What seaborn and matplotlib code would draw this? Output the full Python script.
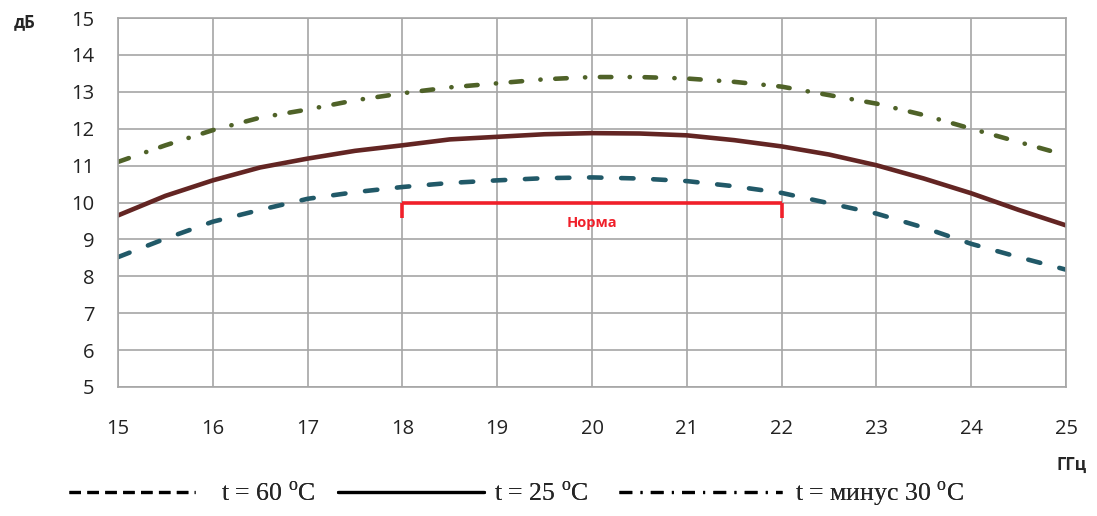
import numpy as np
import pandas as pd
import matplotlib
matplotlib.use("Agg")
import matplotlib.pyplot as plt
from matplotlib.lines import Line2D
import seaborn as sns

# ---- data ----
freq_ghz = [15, 15.5, 16, 16.5, 17, 17.5, 18, 18.5, 19, 19.5, 20,
            20.5, 21, 21.5, 22, 22.5, 23, 23.5, 24, 24.5, 25]
gain_60 = [8.52, 9.02, 9.48, 9.80, 10.10, 10.28, 10.42, 10.53, 10.60, 10.66, 10.68,
           10.65, 10.58, 10.44, 10.26, 9.98, 9.70, 9.32, 8.88, 8.52, 8.18]
gain_25 = [9.65, 10.18, 10.60, 10.95, 11.19, 11.40, 11.55, 11.71, 11.78, 11.85, 11.88,
           11.87, 11.82, 11.69, 11.52, 11.30, 11.01, 10.65, 10.25, 9.80, 9.38]
gain_m30 = [11.10, 11.55, 11.96, 12.30, 12.52, 12.77, 12.96, 13.12, 13.23, 13.34, 13.40,
            13.40, 13.36, 13.27, 13.14, 12.91, 12.68, 12.37, 12.00, 11.64, 11.28]
norm_x = [18, 22]
norm_level = 10
norm_label = "Норма"
series_labels = ["t = 60 $^{\\rm o}$C", "t = 25 $^{\\rm o}$C", "t = минус 30 $^{\\rm o}$C"]
x_ticks = list(range(15, 26))
y_ticks = list(range(5, 16))

sns.set_style("white")
plt.rcParams["font.family"] = ["Open Sans", "DejaVu Sans"]
plt.rcParams["mathtext.fontset"] = "custom"
plt.rcParams["mathtext.rm"] = "Liberation Serif"

W, H = 1097, 516
fig = plt.figure(figsize=(W / 100, H / 100), dpi=100)
ax = fig.add_axes([118/W, 1-387/H, (1066-118)/W, (387-18)/H])

c60 = "#215968"
c25 = "#632523"
cm30 = "#4F6228"
lw = 3.3

df = pd.DataFrame({"f": freq_ghz, "g60": gain_60, "g25": gain_25, "gm30": gain_m30})

sns.lineplot(data=df, x="f", y="gm30", ax=ax, color=cm30, lw=lw)
sns.lineplot(data=df, x="f", y="g25", ax=ax, color=c25, lw=lw)
sns.lineplot(data=df, x="f", y="g60", ax=ax, color=c60, lw=lw)

l_m30, l_25, l_60 = ax.get_lines()[:3]
l_60.set_linestyle((0, (2.7, 4.3)))
l_60.set_dash_capstyle("round")
l_m30.set_linestyle((0, (2.5, 4.0, 0.05, 3.2)))
l_m30.set_dash_capstyle("round")
l_25.set_solid_joinstyle("round")

# Норма bracket
red = "#F0202A"
ax.plot(norm_x, [norm_level, norm_level], color=red, lw=2.6, solid_capstyle="butt")
for xv in norm_x:
    ax.plot([xv, xv], [norm_level, norm_level - 0.42], color=red, lw=2.6, solid_capstyle="butt")
ax.text(np.mean(norm_x), norm_level - 0.55, norm_label, color=red, fontsize=10.5,
        fontweight="bold", ha="center", va="center")

ax.set_xlim(15, 25)
ax.set_ylim(5, 15)
ax.set_xticks(x_ticks)
ax.set_yticks(y_ticks)
ax.set_xticklabels([str(v) for v in x_ticks])
ax.set_yticklabels([str(v) for v in y_ticks])
ax.grid(True, color="#a6a6a6", lw=1.2)
ax.set_axisbelow(True)
for s in ax.spines.values():
    s.set_color("#a6a6a6")
    s.set_linewidth(1.2)
ax.tick_params(axis="y", length=0, pad=17, labelsize=14.5, colors="#222222")
ax.tick_params(axis="x", length=0, pad=23, labelsize=14.5, colors="#222222")
ax.set_xlabel("")
ax.set_ylabel("")

fig.text(25/W, 1-22/H, "дБ", fontsize=12, fontweight="bold", ha="center", va="center")
fig.text(1072/W, 1-465/H, "ГГц", fontsize=12, fontweight="bold", ha="center", va="center")

# legend: three single-entry legends placed along the bottom
leg_fs = 18.5
leg_specs = [
    (69, 126, Line2D([], [], color="black", lw=2.3, linestyle=(0, (3.6, 2.0))), 1.0),
    (338, 146, Line2D([], [], color="black", lw=2.3), 0.4),
    (619, 163, Line2D([], [], color="black", lw=2.3, linestyle=(0, (4.0, 2.6, 0.6, 2.6))), 0.5),
]
for (x0, hlen_px, h, tpad), lab in zip(leg_specs, series_labels):
    hl = hlen_px / 1.389 / leg_fs
    lg = fig.legend([h], [lab], loc="center left", bbox_to_anchor=(x0 / W, 1 - 494 / H),
                    frameon=False, handlelength=hl, handletextpad=tpad, borderpad=0,
                    borderaxespad=0, prop={"family": "Liberation Serif", "size": leg_fs})
    fig.add_artist(lg)

fig.savefig("out.png", dpi=100)
